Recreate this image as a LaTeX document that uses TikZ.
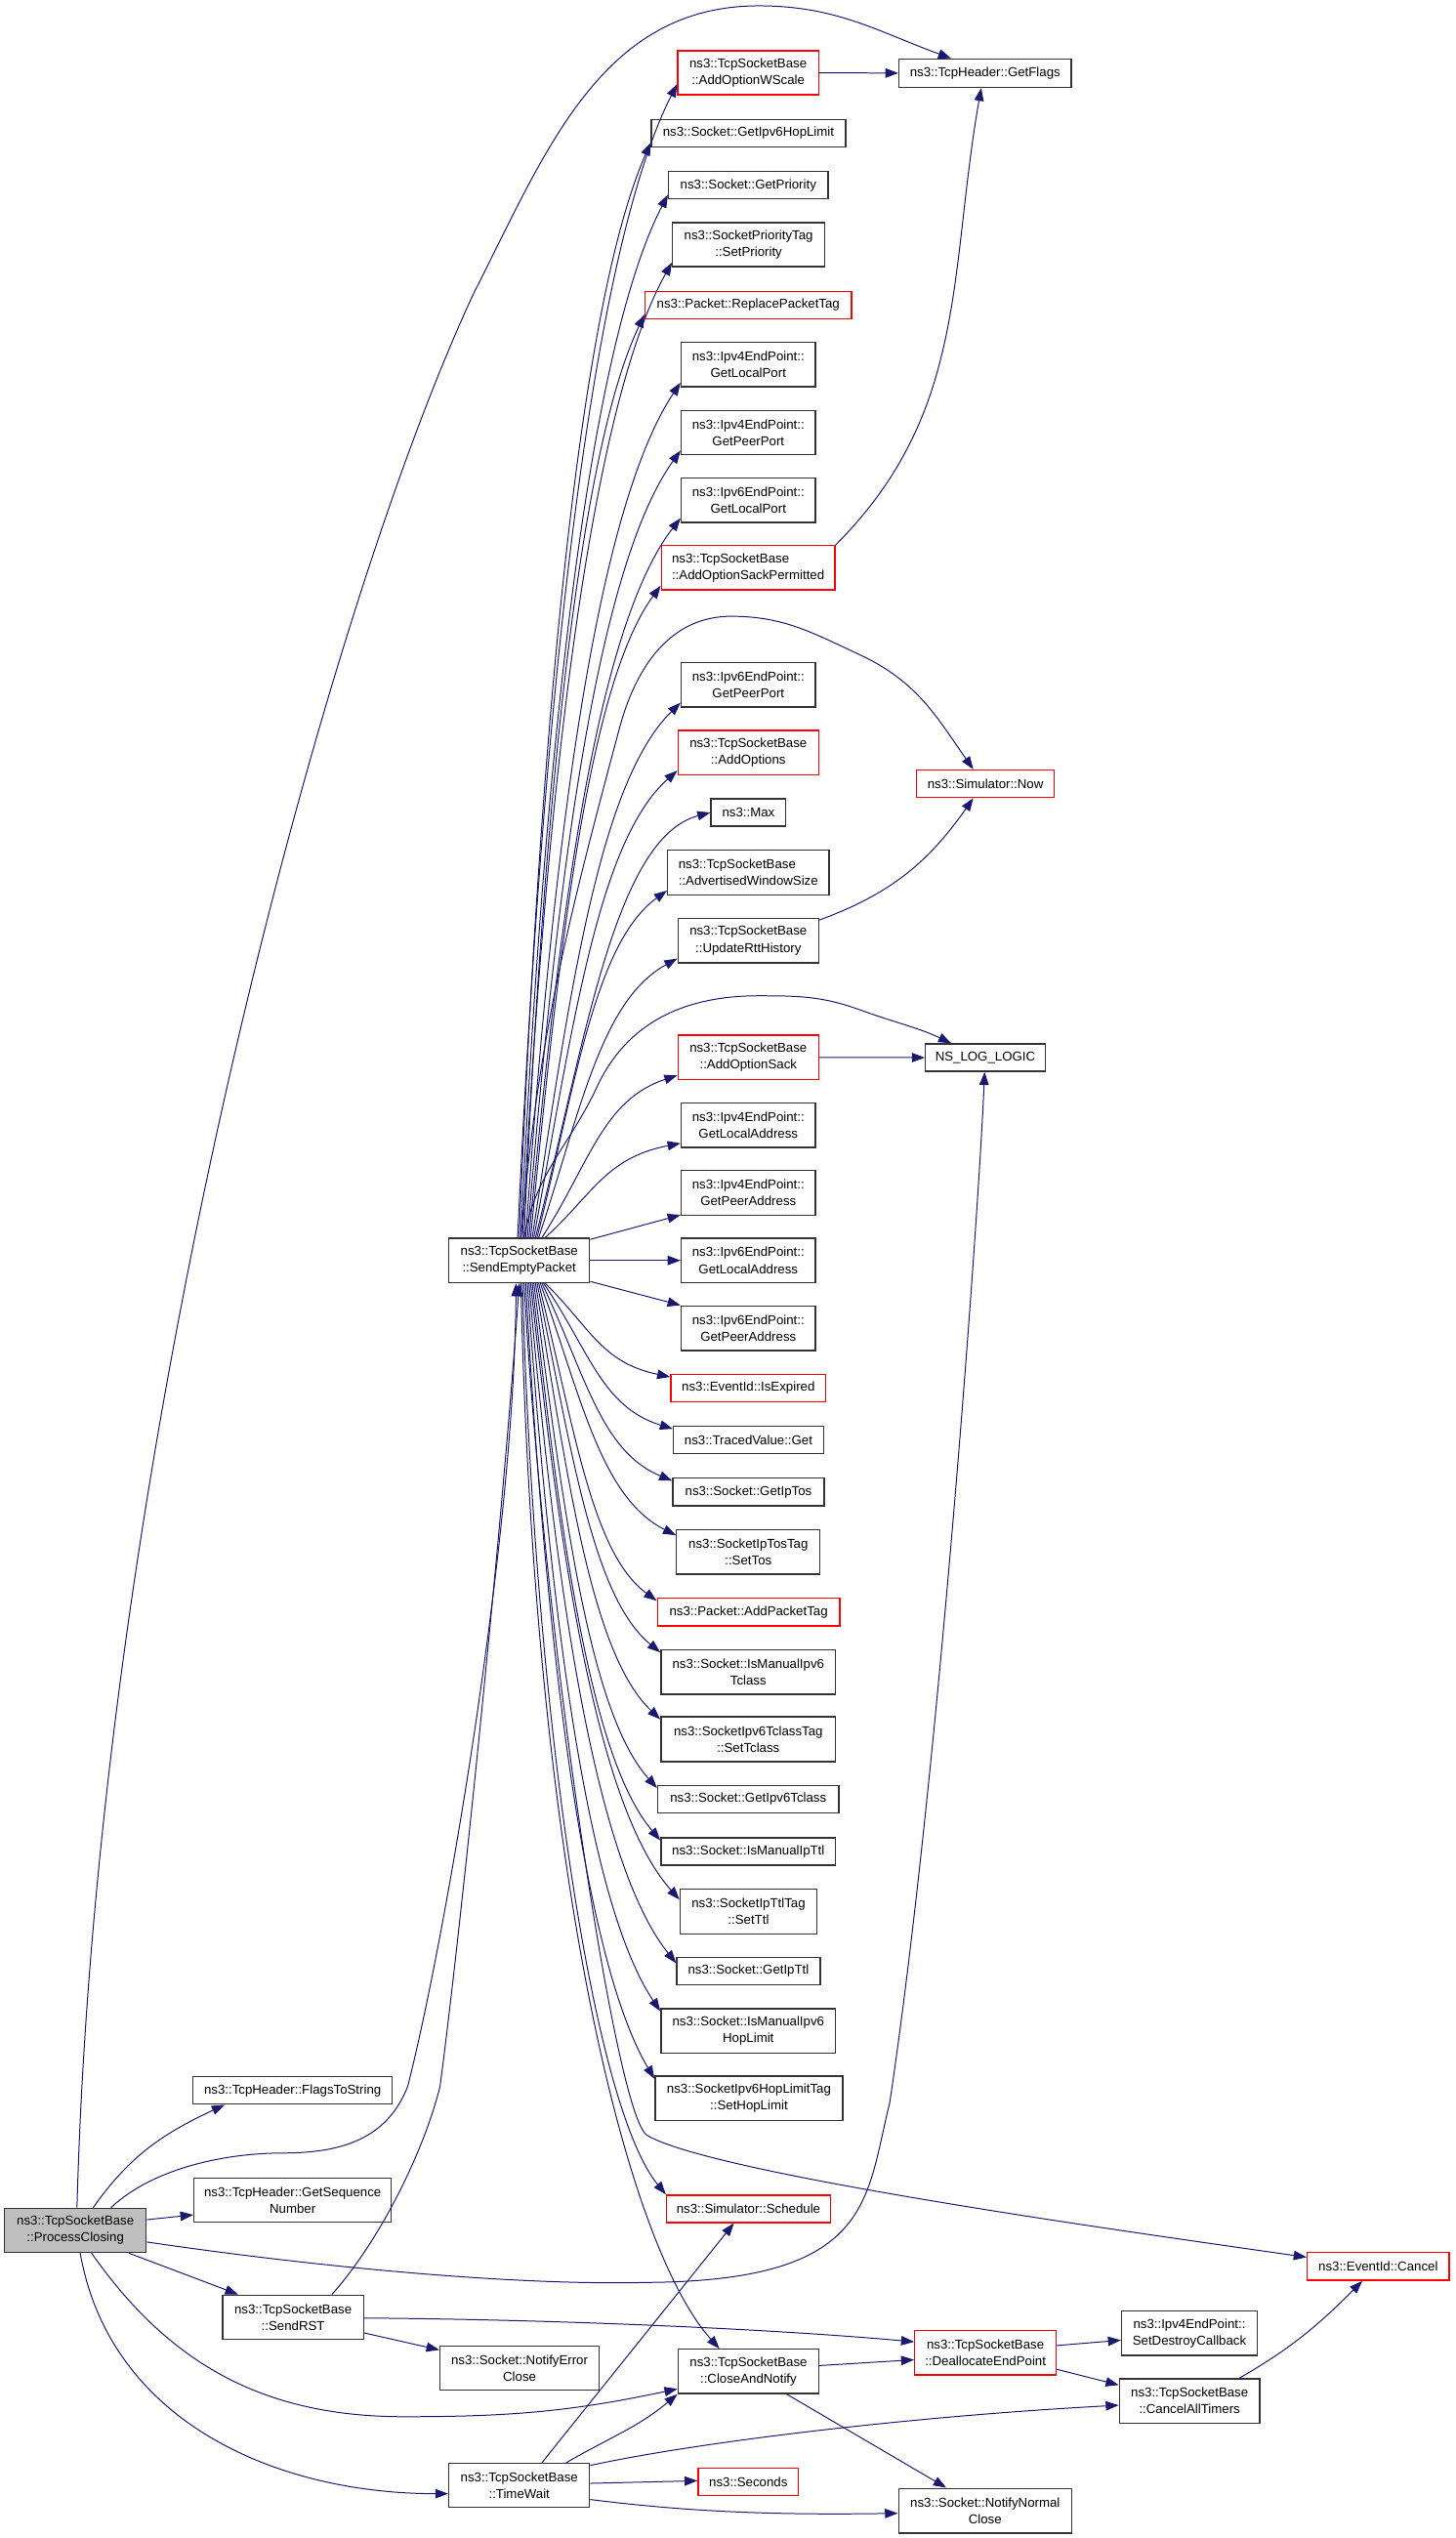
\documentclass[tikz,border=0pt]{standalone}
\usepackage{fontspec}
\setmainfont{Liberation Sans}
\usetikzlibrary{arrows.meta}
\definecolor{edgeblue}{HTML}{191970}
\definecolor{rootgray}{HTML}{BFBFBF}
\newcommand{\nodefont}{\fontsize{8}{10.3}\selectfont}
\begin{document}
\begin{tikzpicture}[x=1pt,y=1pt,
  wh/.style 2 args={minimum width=#1pt, minimum height=#2pt},
  fn/.style={draw=black!80, line width=0.8pt, fill=white, inner sep=0pt, align=center, font=\nodefont, text=black},
  fr/.style={fn, draw=red},
  ed/.style={draw=edgeblue, line width=0.6pt, -{Triangle[length=8pt,width=5.8pt]}}]
\useasboundingbox (0,0) rectangle (900,-1569);
% ---- nodes
\node[fn, wh={87.5}{27.3}, fill=rootgray] (pc) at (46.6,-1378.8) {ns3::TcpSocketBase\\::ProcessClosing};
\node[fn, wh={123}{17}] (fts) at (180.9,-1292.3) {ns3::TcpHeader::FlagsToString};
\node[fn, wh={122}{27.3}] (gsn) at (180.9,-1360.2) {ns3::TcpHeader::GetSequence\\Number};
\node[fn, wh={87}{27.4}] (rst) at (181.2,-1432.5) {ns3::TcpSocketBase\\::SendRST};
\node[fn, wh={98.4}{27.2}] (nec) at (321.2,-1464) {ns3::Socket::NotifyError\\Close};
\node[fn, wh={87}{27.1}] (tw) at (321,-1536.4) {ns3::TcpSocketBase\\::TimeWait};
\node[fn, wh={87}{27.4}] (sep) at (321,-779.2) {ns3::TcpSocketBase\\::SendEmptyPacket};
\node[fr, wh={87}{27.2}] (aows) at (462.5,-45) {ns3::TcpSocketBase\\::AddOptionWScale};
\node[fn, wh={106.5}{17.5}] (gflags) at (609,-45.2) {ns3::TcpHeader::GetFlags};
\node[fn, wh={120}{16.7}] (gi6hl) at (462.7,-82.4) {ns3::Socket::GetIpv6HopLimit};
\node[fn, wh={98.6}{17}] (gpri) at (462.6,-114.5) {ns3::Socket::GetPriority};
\node[fn, wh={94}{27.2}] (spt) at (462.8,-151.3) {ns3::SocketPriorityTag\\::SetPriority};
\node[fr, wh={127.5}{17}] (rpt) at (462.6,-188.6) {ns3::Packet::ReplacePacketTag};
\node[fn, wh={83}{27.5}] (v4lp) at (462.6,-225.4) {ns3::Ipv4EndPoint::\\GetLocalPort};
\node[fn, wh={83}{27.5}] (v4pp) at (462.6,-267.4) {ns3::Ipv4EndPoint::\\GetPeerPort};
\node[fn, wh={83}{27.5}] (v6lp) at (462.6,-309.2) {ns3::Ipv6EndPoint::\\GetLocalPort};
\node[fr, wh={107.3}{27.4}, align=left] (aosp) at (462.5,-351) {ns3::TcpSocketBase\\::AddOptionSackPermitted};
\node[fn, wh={83}{27.4}] (v6pp) at (462.6,-423.3) {ns3::Ipv6EndPoint::\\GetPeerPort};
\node[fr, wh={87}{27.4}] (aopt) at (462.6,-465.3) {ns3::TcpSocketBase\\::AddOptions};
\node[fn, wh={46.3}{17}] (max) at (462.7,-502.3) {ns3::Max};
\node[fn, wh={99.8}{27.5}, align=left] (aws) at (462.6,-539.4) {ns3::TcpSocketBase\\::AdvertisedWindowSize};
\node[fn, wh={87}{27.5}] (urh) at (462.6,-581.4) {ns3::TcpSocketBase\\::UpdateRttHistory};
\node[fr, wh={85.3}{17}] (now) at (609.2,-484.5) {ns3::Simulator::Now};
\node[fr, wh={87}{27.4}] (aos) at (462.6,-653.7) {ns3::TcpSocketBase\\::AddOptionSack};
\node[fn, wh={74}{17}] (nslog) at (609.1,-653.8) {NS\_LOG\_LOGIC};
\node[fn, wh={83}{27.4}] (v4la) at (462.6,-695.7) {ns3::Ipv4EndPoint::\\GetLocalAddress};
\node[fn, wh={83}{27.6}] (v4pa) at (462.6,-737.3) {ns3::Ipv4EndPoint::\\GetPeerAddress};
\node[fn, wh={83}{27.4}] (v6la) at (462.6,-779.2) {ns3::Ipv6EndPoint::\\GetLocalAddress};
\node[fn, wh={83}{27.6}] (v6pa) at (462.6,-821.1) {ns3::Ipv6EndPoint::\\GetPeerAddress};
\node[fr, wh={95.8}{17}] (isexp) at (462.6,-858.1) {ns3::EventId::IsExpired};
\node[fn, wh={92.8}{17}] (tvg) at (462.7,-890.2) {ns3::TracedValue::Get};
\node[fn, wh={93.5}{17}] (giptos) at (462.7,-922.3) {ns3::Socket::GetIpTos};
\node[fn, wh={88.7}{27.6}] (settos) at (462.6,-959.3) {ns3::SocketIpTosTag\\::SetTos};
\node[fr, wh={112.8}{17.2}] (apt) at (462.8,-996.6) {ns3::Packet::AddPacketTag};
\node[fn, wh={108}{27.4}] (im6tc) at (462.6,-1033.6) {ns3::Socket::IsManualIpv6\\Tclass};
\node[fn, wh={108}{27.8}] (settc) at (462.6,-1075.2) {ns3::SocketIpv6TclassTag\\::SetTclass};
\node[fn, wh={112}{17}] (gi6tc) at (462.6,-1112.3) {ns3::Socket::GetIpv6Tclass};
\node[fn, wh={108}{17}] (imttl) at (462.6,-1144.6) {ns3::Socket::IsManualIpTtl};
\node[fn, wh={84.5}{27.7}] (setttl) at (462.7,-1181.6) {ns3::SocketIpTtlTag\\::SetTtl};
\node[fn, wh={88.7}{17}] (gipttl) at (462.7,-1218.5) {ns3::Socket::GetIpTtl};
\node[fn, wh={108}{27.6}] (im6hl) at (462.6,-1255.5) {ns3::Socket::IsManualIpv6\\HopLimit};
\node[fn, wh={116}{27.6}] (sethl) at (463,-1297.3) {ns3::SocketIpv6HopLimitTag\\::SetHopLimit};
\node[fr, wh={101.3}{17}] (sched) at (462.7,-1365.5) {ns3::Simulator::Schedule};
\node[fn, wh={87}{27.3}] (can) at (462.7,-1466) {ns3::TcpSocketBase\\::CloseAndNotify};
\node[fr, wh={62}{17}] (sec) at (462.6,-1534.2) {ns3::Seconds};
\node[fr, wh={87.4}{27.5}] (dep) at (609.2,-1454.4) {ns3::TcpSocketBase\\::DeallocateEndPoint};
\node[fn, wh={107}{27.6}] (nnc) at (609,-1552.1) {ns3::Socket::NotifyNormal\\Close};
\node[fn, wh={83.8}{27.5}] (sdc) at (735.3,-1442.3) {ns3::Ipv4EndPoint::\\SetDestroyCallback};
\node[fn, wh={86.8}{27.5}] (cat) at (735.4,-1484.3) {ns3::TcpSocketBase\\::CancelAllTimers};
\node[fr, wh={87.7}{17.2}] (cancel) at (852,-1401.1) {ns3::EventId::Cancel};
% ---- edges from ProcessClosing
\draw[ed] ([xshift=1]pc.north) .. controls (60,-900) and (200,-380) .. (293,-181) to[out=63,in=180] (469,-3.6) to[out=0,in=160] ([xshift=-21]gflags.north);
\draw[ed] ([xshift=11]pc.north) to[out=55,in=-155] ([xshift=-42]fts.south);
\draw[ed] ([xshift=22]pc.north) .. controls (95,-1340) and (140,-1331) .. (175,-1331) .. controls (215,-1331) and (240,-1320) .. (252,-1290) .. controls (275,-1200) and (318,-950) .. ([xshift=-2]sep.south);
\draw[ed] ([yshift=6.6]pc.east) -- ([yshift=-9]gsn.west);
\draw[ed] ([yshift=-7.2]pc.east) .. controls (200,-1402) and (320,-1413) .. (400,-1411) .. controls (540,-1410) and (535,-1360) .. (550,-1300) .. controls (580,-1100) and (605,-750) .. ([xshift=-0.4]nslog.south);
\draw[ed] ([xshift=33]pc.south) -- ([xshift=-34]rst.north);
\draw[ed] ([xshift=10]pc.south) to[out=-55,in=180] (250,-1494) to[out=0,in=-168] ([yshift=-10.8]can.west);
\draw[ed] ([xshift=3]pc.south) to[out=-80,in=180] ([yshift=-5.2]tw.west);
% ---- SendRST
\draw[ed] ([xshift=24]rst.north) .. controls (235,-1385) and (262,-1330) .. (272,-1290) .. controls (284,-1200) and (310,-950) .. (sep.south);
\draw[ed] ([yshift=-0.5]rst.east) .. controls (350,-1434) and (480,-1440) .. ([yshift=6.7]dep.west);
\draw[ed] ([yshift=-9.7]rst.east) -- ([yshift=11.3]nec.west);
% ---- TimeWait
\draw[ed] ([xshift=14]tw.north) -- ([xshift=-9]sched.south);
\draw[ed] ([xshift=29]tw.north) to[out=30,in=-140] (can.south west);
\draw[ed] ([yshift=12.3]tw.east) .. controls (430,-1510) and (560,-1494) .. ([yshift=-2.6]cat.west);
\draw[ed] ([yshift=1.2]tw.east) -- ([yshift=0.6]sec.west);
\draw[ed] ([yshift=-8.8]tw.east) .. controls (420,-1552) and (470,-1555) .. ([yshift=-1.6]nnc.west);
% ---- CloseAndNotify, DeallocateEndPoint, CancelAllTimers
\draw[ed] ([yshift=3.6]can.east) -- ([yshift=-4.4]dep.west);
\draw[ed] ([xshift=23.6]can.south) -- ([xshift=-24]nnc.north);
\draw[ed] ([yshift=4.4]dep.east) -- ([yshift=-4.4]sdc.west);
\draw[ed] ([yshift=-10.3]dep.east) -- ([yshift=9.9]cat.west);
\draw[ed] ([xshift=30.8]cat.north) to[out=30,in=-135] ([xshift=-9.8]cancel.south);
% ---- misc
\draw[ed] (aows.east) -- (gflags.west);
\draw[ed] (aosp.north east) to[out=45,in=-100] ([xshift=-2.4]gflags.south);
\draw[ed] ([yshift=-1.5]urh.north east) to[out=20,in=-125] ([xshift=-7.5]now.south);
\draw[ed] (aos.east) -- (nslog.west);
% ---- SendEmptyPacket upward
\draw[ed] ([xshift=-1]sep.north) .. controls +(14.9,321.2) and +(-54.5,-107.1) .. ([yshift=7]aows.south west);
\draw[ed] (sep.north) .. controls +(12.3,305) and +(-44.9,-101.7) .. ([yshift=3]gi6hl.south west);
\draw[ed] ([xshift=1]sep.north) .. controls +(13.7,290.5) and +(-50.2,-96.8) .. ([yshift=3]gpri.south west);
\draw[ed] ([xshift=2]sep.north) .. controls +(13.9,271.6) and +(-51,-90.5) .. ([yshift=3]spt.south west);
\draw[ed] ([xshift=3]sep.north) .. controls +(11.2,257.1) and +(-41.2,-85.7) .. ([yshift=3]rpt.south west);
\draw[ed] ([xshift=4]sep.north) .. controls +(16.3,238.2) and +(-52.9,-79.4) .. ([yshift=3]v4lp.south west);
\draw[ed] ([xshift=5]sep.north) .. controls +(18.1,219.3) and +(-52.3,-73.1) .. ([yshift=3]v4pp.south west);
\draw[ed] ([xshift=6]sep.north) .. controls +(18.8,200.5) and +(-51.8,-66.8) .. ([yshift=3]v6lp.south west);
\draw[ed] ([xshift=7]sep.north) .. controls +(17.8,181.7) and +(-44.5,-60.6) .. ([yshift=3]aosp.south west);
\draw[ed] ([xshift=8]sep.north) .. controls +(23,149.2) and +(-50.7,-49.7) .. ([yshift=3]v6pp.south west);
\draw[ed] ([xshift=9]sep.north) .. controls +(24.1,130.3) and +(-49,-43.4) .. ([yshift=3]aopt.south west);
\draw[ed] ([xshift=10]sep.north) .. controls +(30.4,118.3) and +(-59.7,-15.8) .. (max.west);
\draw[ed] ([xshift=11]sep.north) .. controls +(24.2,96.9) and +(-44.4,-32.3) .. ([yshift=3]aws.south west);
\draw[ed] ([xshift=12]sep.north) .. controls +(25.8,78) and +(-47.4,-26) .. ([yshift=3]urh.south west);
\draw[ed] ([xshift=14]sep.north) .. controls +(29.4,45.5) and +(-46.3,-15.2) .. ([yshift=3]aos.south west);
\draw[ed] ([xshift=16]sep.north) .. controls +(29.4,26.6) and +(-46.3,-8.9) .. ([yshift=3]v4la.south west);
\draw[ed] ([xshift=1]sep.north) to[out=85,in=-105] (383,-450) to[out=75,in=180] (452,-381) to[out=0,in=155] (532,-405) to[out=-25,in=125] ([xshift=-7.5]now.north);
\draw[ed] ([xshift=3]sep.north) to[out=80,in=-115] (369,-672) to[out=65,in=180] (469,-615.6) to[out=0,in=160] (532,-624.4) to[out=-20,in=155] ([xshift=-21]nslog.north);
% ---- SendEmptyPacket straight
\draw[ed] ([yshift=13]sep.east) -- ([yshift=-13.8]v4pa.west);
\draw[ed] (sep.east) -- (v6la.west);
\draw[ed] ([yshift=-13]sep.east) -- (v6pa.north west);
% ---- SendEmptyPacket downward
\draw[ed] ([xshift=16]sep.south) .. controls +(27.2,-26.4) and +(-42.7,8.8) .. ([yshift=-2]isexp.north west);
\draw[ed] ([xshift=15]sep.south) .. controls +(28.1,-40.9) and +(-44.2,13.6) .. ([yshift=-2]tvg.north west);
\draw[ed] ([xshift=14]sep.south) .. controls +(26.7,-55.3) and +(-44.6,18.4) .. ([yshift=-2]giptos.north west);
\draw[ed] ([xshift=13]sep.south) .. controls +(25.3,-70.3) and +(-46.4,23.4) .. ([yshift=-4]settos.north west);
\draw[ed] ([xshift=12]sep.south) .. controls +(22,-88.7) and +(-40.4,29.6) .. ([yshift=-2]apt.north west);
\draw[ed] ([xshift=11]sep.south) .. controls +(21.4,-103) and +(-42.1,34.4) .. ([yshift=-2]im6tc.north west);
\draw[ed] ([xshift=10]sep.south) .. controls +(20.2,-121.7) and +(-42.7,40.6) .. ([yshift=-2]settc.north west);
\draw[ed] ([xshift=9]sep.south) .. controls +(18.4,-140.8) and +(-42.1,46.9) .. ([yshift=-2]gi6tc.north west);
\draw[ed] ([xshift=8]sep.south) .. controls +(17.5,-155.3) and +(-43.8,51.8) .. ([yshift=-2]imttl.north west);
\draw[ed] ([xshift=7]sep.south) .. controls +(18.5,-171.9) and +(-50.9,57.3) .. ([yshift=-7]setttl.north west);
\draw[ed] ([xshift=6]sep.south) .. controls +(16.5,-189.5) and +(-50.3,63.2) .. ([yshift=-4]gipttl.north west);
\draw[ed] ([xshift=5]sep.south) .. controls +(14,-202.9) and +(-45.4,67.6) .. ([yshift=-2]im6hl.north west);
\draw[ed] ([xshift=4]sep.south) .. controls +(12,-221.7) and +(-44,73.9) .. ([yshift=-2]sethl.north west);
\draw[ed] ([xshift=3]sep.south) .. controls (335,-1000) and (380,-1308) .. (400,-1320) .. controls (440,-1344) and (700,-1380) .. ([yshift=5.7]cancel.west);
\draw[ed] ([xshift=2]sep.south) .. controls (330,-1050) and (365,-1300) .. (sched.north west);
\draw[ed] ([xshift=1]sep.south) .. controls (330,-1150) and (385,-1385) .. ([xshift=-18]can.north);
\end{tikzpicture}
\end{document}
